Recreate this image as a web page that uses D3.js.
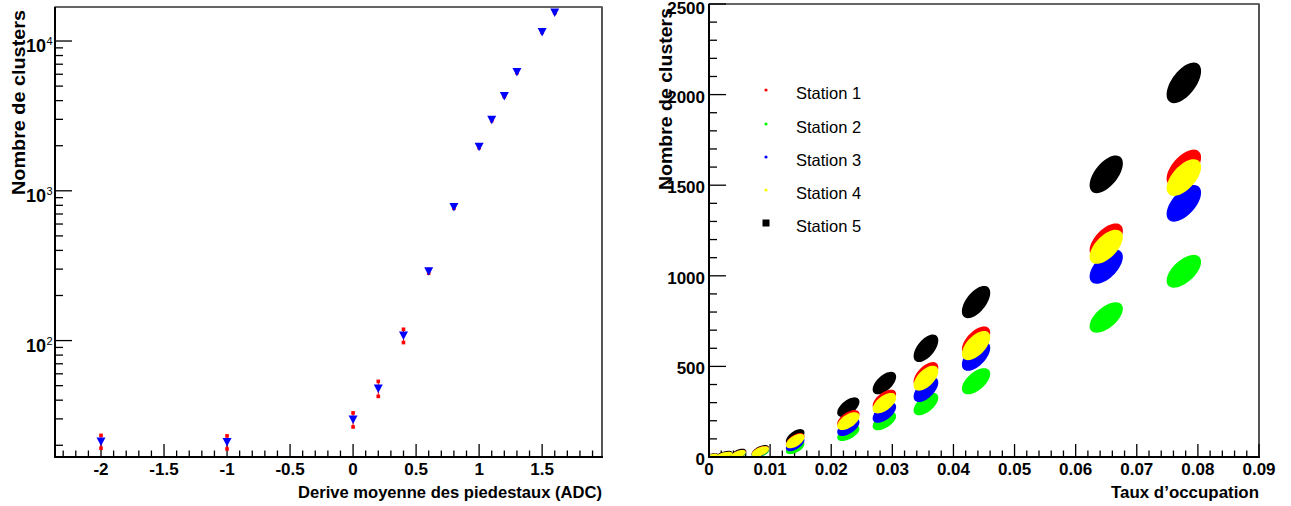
<!DOCTYPE html>
<html>
<head>
<meta charset="utf-8">
<script src="https://cdn.jsdelivr.net/npm/d3@7"></script>
<style>
  html, body { margin: 0; padding: 0; background: #fff; }
  svg { display: block; }
  text { font-family: "Liberation Sans", Arial, Helvetica, sans-serif; }
</style>
</head>
<body>
<svg id="chart" width="1291" height="506"></svg>
<script>
// ---------------- DATA ----------------
// Left panel: clusters vs mean pedestal drift
const driftX = [-2, -1, 0, 0.2, 0.4, 0.6, 0.8, 1.0, 1.1, 1.2, 1.3, 1.5, 1.6];
const driftClusters = [21.2, 21.0, 29.7, 47.9, 108, 290, 780, 1970, 2980, 4300, 6200, 11500, 15500];
const driftErr = [2.1, 2.1, 3.2, 5.5, 11, 8, 15, 30, 40, 50, 60, 80, 90];
const driftXTicks = [-2, -1.5, -1, -0.5, 0, 0.5, 1, 1.5];
const driftYDecades = [2, 3, 4];

// Right panel: clusters vs occupancy, one cloud per occupancy level and station
const occLevels = [0.0005, 0.0025, 0.0048, 0.0084, 0.0141, 0.0228, 0.0287, 0.0355, 0.0437, 0.0650, 0.0777];
const occSpreadX = [0.0008, 0.0012, 0.0011, 0.0013, 0.0014, 0.0017, 0.0018, 0.0019, 0.0022, 0.0026, 0.0027];
const occSpreadY = [12, 16, 22, 28, 40, 50, 58, 72, 85, 100, 108];
const stationNames = ["Station 1", "Station 2", "Station 3", "Station 4", "Station 5"];
const stationColors = ["#ff0000", "#00ff00", "#0000ff", "#ffff00", "#000000"];
const stationSpreadFactor = [0.9, 0.8, 0.9, 0.9, 1.0];
const station1 = [4, 10, 16, 32, 92, 210, 315, 455, 640, 1195, 1595];
const station2 = [3, 7, 11, 22, 52, 132, 198, 292, 418, 770, 1025];
const station3 = [4, 9, 14, 28, 72, 165, 245, 372, 556, 1050, 1400];
const station4 = [4, 10, 15, 30, 88, 198, 297, 435, 615, 1160, 1542];
const station5 = [6, 14, 20, 34, 110, 275, 408, 600, 855, 1560, 2065];
const stationValues = [station1, station2, station3, station4, station5];
const drawOrder = [4, 0, 1, 2, 3];
const occXTicks = [0, 0.01, 0.02, 0.03, 0.04, 0.05, 0.06, 0.07, 0.08, 0.09];
const occYTicks = [0, 500, 1000, 1500, 2000, 2500];

// ---------------- LAYOUT ----------------
const svg = d3.select("#chart");
const FONT_B = "bold";
const L = { x0: 55, x1: 602, y0: 7, y1: 457 };
const R = { x0: 709, x1: 1259, y0: 4, y1: 457 };

const xL = d3.scaleLinear().domain([-2.365, 1.975]).range([L.x0, L.x1]);
const yL = d3.scaleLog().domain([16.7, 16870]).range([L.y1, L.y0]);
const xR = d3.scaleLinear().domain([0, 0.09]).range([R.x0, R.x1]);
const yR = d3.scaleLinear().domain([0, 2500]).range([R.y1, R.y0]);

function frame(P) {
  svg.append("rect").attr("x", P.x0).attr("y", P.y0)
    .attr("width", P.x1 - P.x0).attr("height", P.y1 - P.y0)
    .attr("fill", "none").attr("stroke", "#000").attr("stroke-width", 1.2);
  svg.append("line").attr("x1", P.x1).attr("x2", P.x1).attr("y1", P.y0).attr("y2", P.y1)
    .attr("stroke", "#555").attr("stroke-width", 2);
  svg.append("line").attr("x1", P.x0).attr("x2", P.x0).attr("y1", P.y0).attr("y2", P.y1 + 1)
    .attr("stroke", "#000").attr("stroke-width", 2);
  svg.append("line").attr("x1", P.x0 - 1).attr("x2", P.x1 + 1).attr("y1", P.y1).attr("y2", P.y1)
    .attr("stroke", "#000").attr("stroke-width", 2);
}
frame(L);
frame(R);

function xTicks(scale, P, step, minorStep) {
  const [d0, d1] = scale.domain();
  const g = svg.append("g");
  const n0 = Math.ceil(d0 / minorStep - 1e-6), n1 = Math.floor(d1 / minorStep + 1e-6);
  for (let i = n0; i <= n1; i++) {
    const v = i * minorStep;
    const major = Math.abs(v / step - Math.round(v / step)) < 1e-6;
    const len = major ? 13 : 6.5;
    g.append("line").attr("x1", scale(v)).attr("x2", scale(v))
      .attr("y1", P.y1).attr("y2", P.y1 - len)
      .attr("stroke", "#000").attr("stroke-width", 1.3);
  }
}
function xLabels(scale, ticks, fmt) {
  svg.append("g").selectAll("text").data(ticks).join("text")
    .attr("x", d => scale(d)).attr("y", 475)
    .attr("text-anchor", "middle").attr("font-size", 17).attr("font-weight", FONT_B)
    .text(fmt);
}

// Left x axis
xTicks(xL, L, 0.5, 0.1);
xLabels(xL, driftXTicks, d => String(d));
// Right x axis
xTicks(xR, R, 0.01, 0.002);
xLabels(xR, occXTicks, d => d === 0 ? "0" : d3.format(".2f")(d));

// Left y axis (log)
{
  const g = svg.append("g");
  const [d0, d1] = yL.domain();
  for (let e = 1; e <= 4; e++) {
    for (let m = 1; m <= 9; m++) {
      const v = m * Math.pow(10, e);
      if (v < d0 || v > d1) continue;
      const len = m === 1 ? 17 : 8;
      g.append("line").attr("x1", L.x0).attr("x2", L.x0 + len)
        .attr("y1", yL(v)).attr("y2", yL(v)).attr("stroke", "#000").attr("stroke-width", 1.3);
    }
  }
  driftYDecades.forEach(e => {
    g.append("text").attr("x", 46).attr("y", yL(Math.pow(10, e)) + 11)
      .attr("text-anchor", "end").attr("font-size", 18).attr("font-weight", FONT_B).text("10");
    g.append("text").attr("x", 46.5).attr("y", yL(Math.pow(10, e)) + 4)
      .attr("font-size", 11).attr("font-weight", "normal").text(String(e));
  });
}
// Right y axis
{
  const g = svg.append("g");
  for (let v = 0; v <= 2500; v += 100) {
    const len = v % 500 === 0 ? 17 : 8;
    g.append("line").attr("x1", R.x0).attr("x2", R.x0 + len)
      .attr("y1", yR(v)).attr("y2", yR(v)).attr("stroke", "#000").attr("stroke-width", 1.3);
  }
  g.selectAll("text").data(occYTicks).join("text")
    .attr("x", 705).attr("y", d => Math.max(yR(d) + 8, 14))
    .attr("text-anchor", "end").attr("font-size", 17).attr("font-weight", FONT_B)
    .text(d => String(d));
}

// Axis titles
svg.append("text").attr("x", 602).attr("y", 498).attr("text-anchor", "end")
  .attr("font-size", 17).attr("font-weight", FONT_B)
  .attr("textLength", 304).attr("lengthAdjust", "spacingAndGlyphs")
  .text("Derive moyenne des piedestaux (ADC)");
svg.append("text").attr("x", 1259).attr("y", 498).attr("text-anchor", "end")
  .attr("font-size", 17).attr("font-weight", FONT_B)
  .attr("textLength", 148).attr("lengthAdjust", "spacingAndGlyphs")
  .text("Taux d\u2019occupation");
svg.append("text").attr("transform", "translate(25,195) rotate(-90)")
  .attr("font-size", 19).attr("font-weight", FONT_B)
  .attr("textLength", 185).attr("lengthAdjust", "spacingAndGlyphs")
  .text("Nombre de clusters");
svg.append("text").attr("transform", "translate(672,190) rotate(-90)")
  .attr("font-size", 19).attr("font-weight", FONT_B)
  .attr("textLength", 182).attr("lengthAdjust", "spacingAndGlyphs")
  .text("Nombre de clusters");

// ---------------- LEFT MARKS ----------------
{
  const g = svg.append("g");
  driftX.forEach((x, i) => {
    const v = driftClusters[i], e = driftErr[i];
    const px = xL(x);
    g.append("line").attr("x1", px).attr("x2", px)
      .attr("y1", yL(v + e)).attr("y2", yL(v - e)).attr("stroke", "#ff0000").attr("stroke-width", 1);
    [v + e, v - e].forEach(w => {
      g.append("rect").attr("x", px - 1.8).attr("y", yL(w) - 1.8)
        .attr("width", 3.6).attr("height", 3.6).attr("fill", "#ff0000");
    });
  });
  g.selectAll("path.tri").data(driftX).join("path").attr("class", "tri")
    .attr("d", (x, i) => {
      const px = xL(x), py = yL(driftClusters[i]);
      return `M${px - 4.5},${py - 4}L${px + 4.5},${py - 4}L${px},${py + 4.5}Z`;
    })
    .attr("fill", "#0000ff");
}

// ---------------- RIGHT MARKS ----------------
svg.append("clipPath").attr("id", "clipR").append("rect")
  .attr("x", R.x0 + 1).attr("y", R.y0).attr("width", R.x1 - R.x0 - 2).attr("height", R.y1 - R.y0 - 1);
{
  const g = svg.append("g").attr("clip-path", "url(#clipR)");
  const rho = 0.6;
  const line = d3.line().x(d => xR(d[0])).y(d => yR(d[1])).curve(d3.curveLinearClosed);
  drawOrder.forEach(s => {
    const vals = stationValues[s];
    occLevels.forEach((cx, i) => {
      const hx = occSpreadX[i];
      const hy = occSpreadY[i] * stationSpreadFactor[s];
      const cy = vals[i];
      const pts = d3.range(0, 48).map(k => {
        const t = k / 48 * 2 * Math.PI;
        return [cx + hx * Math.cos(t), cy + hy * (rho * Math.cos(t) + Math.sqrt(1 - rho * rho) * Math.sin(t))];
      });
      g.append("path").attr("d", line(pts)).attr("fill", stationColors[s])
        .attr("stroke", stationColors[s]).attr("stroke-width", 1.5);
    });
  });
}

// Legend
{
  const g = svg.append("g");
  const rows = [90, 124, 157, 190, 223];
  stationNames.forEach((name, i) => {
    if (i < 4) {
      g.append("circle").attr("cx", 766).attr("cy", rows[i]).attr("r", 1.6).attr("fill", stationColors[i]);
    } else {
      g.append("rect").attr("x", 762.5).attr("y", rows[i] - 3.5).attr("width", 7).attr("height", 7).attr("fill", "#000");
    }
    g.append("text").attr("x", 796).attr("y", rows[i] + 9)
      .attr("font-size", 16.5).text(name);
  });
}
</script>
</body>
</html>
